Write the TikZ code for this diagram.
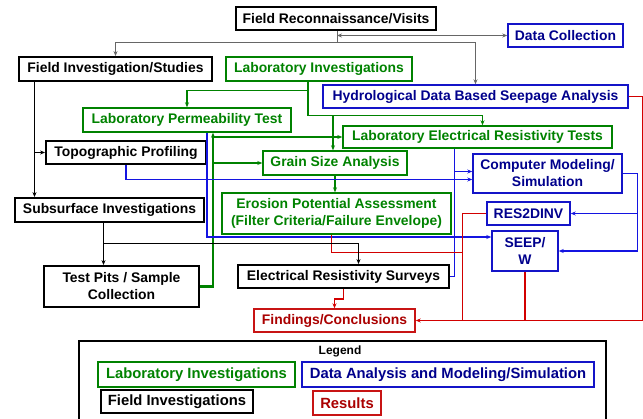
\documentclass[tikz,border=0pt]{standalone}
\usepackage{fontspec}
\setmainfont{Liberation Sans}
\usetikzlibrary{calc,arrows.meta}
\definecolor{labgreen}{RGB}{0,130,0}
\definecolor{databox}{RGB}{20,20,200}
\definecolor{datatext}{RGB}{0,0,140}
\definecolor{dataline}{RGB}{20,20,225}
\definecolor{resbox}{RGB}{200,20,20}
\definecolor{restext}{RGB}{170,0,0}
\definecolor{resline}{RGB}{210,0,0}
\begin{document}
\begin{tikzpicture}
		[x=1pt,y=-1pt,>={Stealth[length=5pt,width=4pt]},
		mybox/.style={draw,line width=1.4pt,inner sep=2pt,align=center,font=\bfseries\fontsize{13.9}{17}\selectfont},
		legbox/.style={font=\bfseries\fontsize{14.8}{17}\selectfont},
		sz/.style 2 args={minimum width=#1pt,minimum height=#2pt},
		fieldnode/.style={mybox,draw=black,text=black,line width=1.8pt},
		labnode/.style={mybox,draw=labgreen,text=labgreen},
		datanode/.style={mybox,draw=databox,text=datatext},
		resnode/.style={mybox,draw=resbox,text=restext},
		greyline/.style={draw=black!60,line width=1pt},
		fieldline/.style={draw=black,line width=1.2pt},
		labline/.style={draw=labgreen,line width=1.2pt},
		labthick/.style={draw=labgreen,line width=2.4pt},
		dataconn/.style={draw=dataline,line width=1.4pt},
		resconn/.style={draw=resline,line width=1.4pt}]
		\useasboundingbox (0,0) rectangle (643,419);
		\node[fieldnode,sz={200}{23},name=FR] at (336,18.5) {Field Reconnaissance/Visits};
		\node[datanode,sz={115}{23},name=DC] at (565.5,35.5) {Data Collection};
		\node[fieldnode,sz={193}{24},name=FI] at (115.5,69) {Field Investigation/Studies};
		\node[labnode,sz={186}{24},name=LI] at (319,69) {Laboratory Investigations};
		\node[datanode,sz={305}{23},name=HD] at (475.5,96.5) {Hydrological Data Based Seepage Analysis};
		\node[labnode,sz={208}{24},name=LP] at (187,120) {Laboratory Permeability Test};
		\node[labnode,sz={269}{22},name=LE] at (477.5,137) {Laboratory Electrical Resistivity Tests};
		\node[fieldnode,sz={160}{23},name=TP] at (126,152.5) {Topographic Profiling};
		\node[labnode,sz={144}{24},name=GS] at (335,163) {Grain Size Analysis};
		\node[datanode,sz={149}{39},name=CM] at (547.5,173.5) {Computer Modeling/\\Simulation};
		\node[labnode,sz={229}{41},name=EP] at (336.5,213.5) {Erosion Potential Assessment\\(Filter Criteria/Failure Envelope)};
		\node[fieldnode,sz={189}{24},name=SI] at (109.5,210) {Subsurface Investigations};
		\node[datanode,sz={83}{23},name=RES] at (528.5,213.5) {RES2DINV};
		\node[datanode,sz={66}{40},name=SEEP] at (525,251) {SEEP/\\W};
		\node[fieldnode,sz={155}{41},name=TS] at (121.5,286.5) {Test Pits / Sample\\Collection};
		\node[fieldnode,sz={211}{23},name=ER] at (343.5,276.5) {Electrical Resistivity Surveys};
		\node[resnode,sz={161}{23},name=FC] at (334.5,320.5) {Findings/Conclusions};
		\coordinate (frjoin) at ($(FR.south)+(1,12)$);
		\draw[greyline] ($(FR.south)+(1,0)$) -- (frjoin);
		\draw[greyline,->] (frjoin) -| (FI.north);
		\draw[greyline,->] (frjoin) -| (HD.north);
		\draw[greyline,<->] (frjoin |- DC.west) -- (DC.west);
		\coordinate (lisplit) at ($(LI.south)+(-11,0)$);
		\draw[labline,->] (lisplit) -- ++(0,9) -| (LP.north);
		\draw[labline] (lisplit) -- ++(0,34) coordinate (libus);
		\draw[labline,->] (libus) -| ($(GS.north)+(-2,0)$);
		\draw[labline,->] (libus) -| ($(LE.north)+(5,0)$);
		\coordinate (gbus) at ($(LP.south)+(26,0)$);
		\draw[labthick,->] (TS.east) -| (gbus);
		\foreach \t in {LE,GS}
		{
			\draw[labline,->] (gbus |- \t.west) -- (\t.west);
		}
		\draw[labline,->] (GS.south) -- (GS.south |- EP.north);
		\draw[dataconn,->] ($(LP.south)+(20,0)$) |- ($(SEEP.west)+(0,-14)$);
		\draw[dataconn,->] (TP.south) |- ($(CM.west)+(0,6)$);
		\coordinate (lex) at ($(LE.south)+(-23,0)$);
		\coordinate (cmin) at ($(CM.west)+(0,-2)$);
		\draw[dataconn] (lex) |- (ER.east);
		\draw[dataconn,->] (lex |- cmin) -- (cmin);
		\coordinate (cmx) at ($(CM.east)+(15,0)$);
		\draw[dataconn,->] (CM.east) -- (cmx) |- (SEEP.east);
		\draw[dataconn,->] (cmx |- RES.east) -- (RES.east);
		\draw[resconn,->] (HD.east) -- ++(14,0) |- (FC.east);
		\draw[resconn] (SEEP.south) -- (SEEP.south |- FC.east);
		\coordinate (resx) at ($(RES.west)+(-24,0)$);
		\draw[resconn] (RES.west) -- (resx) -- (resx |- FC.east);
		\draw[resconn] ($(EP.south)+(-5,0)$) |- ($(resx)+(0,39)$);
		\draw[resconn,->] (ER.south) -- ++(0,10) -| (FC.north);
		\coordinate (fix) at ($(FI.south)+(-81,0)$);
		\draw[fieldline,->] (fix) -- (fix |- SI.north);
		\draw[fieldline,->] (fix |- TP.west) -- (TP.west);
		\coordinate (six) at ($(SI.south)+(-6,0)$);
		\draw[fieldline,->] (six) -- (six |- TS.north);
		\draw[fieldline,->] ($(six)+(0,21)$) -| ($(ER.north)+(15,0)$);
		\draw[line width=1.8pt] (79,341) rectangle (606,430);
		\node[font=\bfseries\fontsize{12}{14}\selectfont,name=legtitle] at (340,351) {Legend};
		\node[labnode,legbox,sz={197}{25},name=leglab] at (196.5,374.5) {Laboratory Investigations};
		\node[datanode,legbox,sz={292}{25},name=legdata] at (448,374.5) {Data Analysis and Modeling/Simulation};
		\node[fieldnode,legbox,sz={152}{23},name=legfield] at (177,401.5) {Field Investigations};
		\node[resnode,legbox,sz={68}{24},name=legres] at (347,403) {Results};
	\end{tikzpicture}
\end{document}
